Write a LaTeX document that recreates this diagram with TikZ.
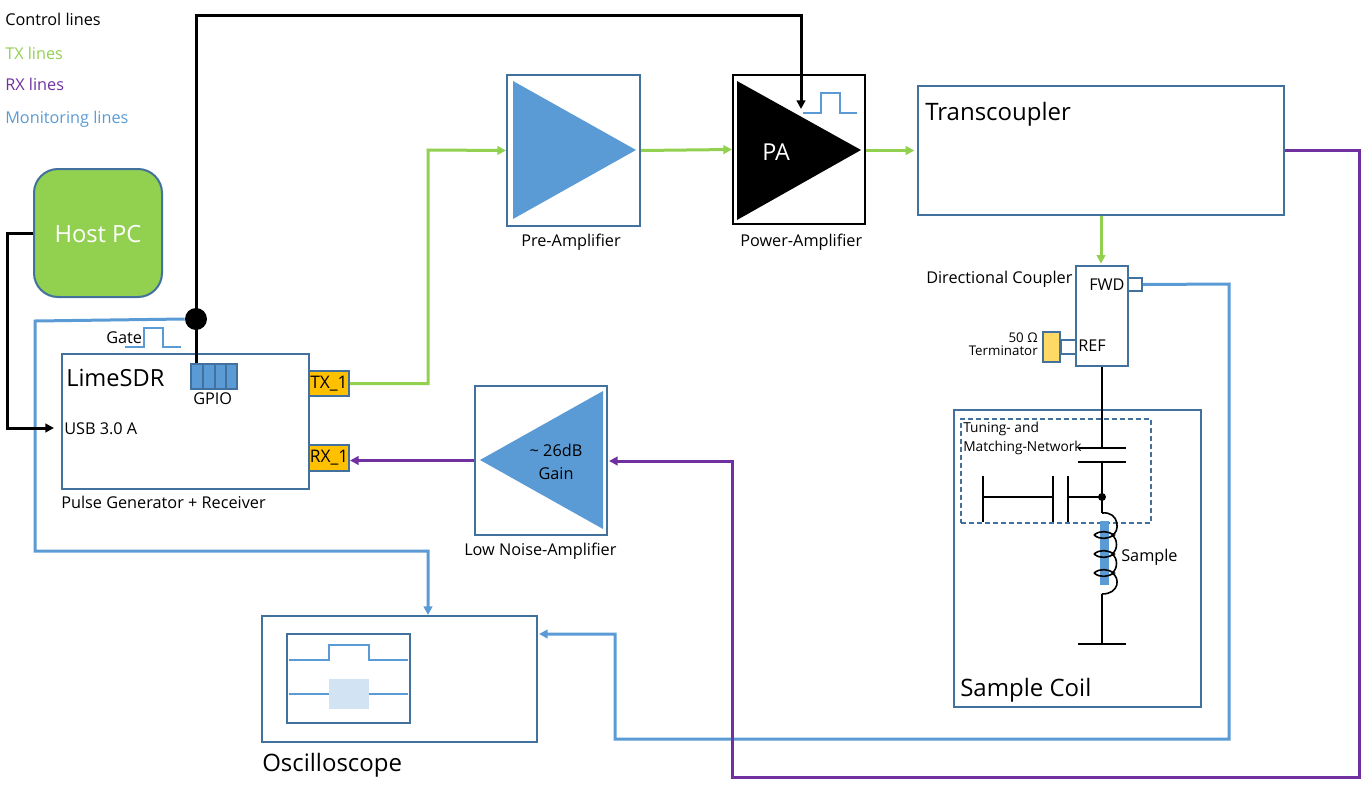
\documentclass[tikz,border=0pt]{standalone}
\usepackage{fontspec}
\setmainfont{Open Sans}
\usetikzlibrary{arrows.meta,fit}
\definecolor{boxline}{HTML}{41719C}
\definecolor{bluefill}{HTML}{5B9BD5}
\definecolor{txgreen}{HTML}{92D050}
\definecolor{rxpurple}{HTML}{7030A0}
\definecolor{portfill}{HTML}{FFC000}
\definecolor{termfill}{HTML}{FFD966}
\definecolor{envfill}{HTML}{D2E4F3}
\newcommand{\fs}[1]{\fontsize{#1}{#1}\selectfont}
\tikzset{
  blockbox/.style={draw=boxline, line width=1.5pt, inner sep=0pt, fit={#1}},
  portbox/.style={blockbox={#1}, fill=portfill},
  lbl/.style={anchor=west, inner sep=0pt, font=\fs{12.2}},
  biglbl/.style={anchor=west, inner sep=0pt, font=\fs{18}},
  ctrlline/.style={draw=black, line width=2.25pt},
  txline/.style={draw=txgreen, line width=2.25pt},
  rxline/.style={draw=rxpurple, line width=2.25pt},
  monline/.style={draw=bluefill, line width=2.25pt},
  pulse/.style={draw=bluefill, line width=1.2pt},
  wire/.style={draw=black, line width=1.5pt},
  tip/.style={-{Triangle[length=6.5pt,width=6.5pt]}}
}
\begin{document}
\begin{tikzpicture}[x=0.75pt, y=-0.75pt]
  \useasboundingbox (0,0) rectangle (1365,789);

  % legend
  \node [lbl] (legctrl) at (5,19) {Control lines};
  \node [lbl, text=txgreen] (legtx) at (5,53) {TX lines};
  \node [lbl, text=rxpurple] (legrx) at (5,84) {RX lines};
  \node [lbl, text=bluefill] (legmon) at (5,119) {Monitoring lines};

  % blocks
  \node [blockbox={(34,169) (162,297)}, fill=txgreen, rounded corners=18pt] (host) {};
  \node [anchor=center, inner sep=0pt, text=white, font=\fs{17.8}] (hostlbl) at (98,234) {Host PC};
  \node [blockbox={(62,354) (309,489)}] (lime) {};
  \node [portbox={(309,371) (349,396)}, label={[font=\fs{13}, inner sep=0pt]center:TX\_1}] (tx) {};
  \node [portbox={(309,445) (349,471)}, label={[font=\fs{13}, inner sep=0pt]center:RX\_1}] (rx) {};
  \node [blockbox={(191,364) (237,389)}, fill=bluefill] (gpio) {};
  \node [blockbox={(507,75) (640,226)}] (pre) {};
  \node [blockbox={(733,75) (865,224)}, draw=black] (pa) {};
  \node [blockbox={(918,86) (1284,215)}] (tc) {};
  \node [blockbox={(475,386) (607,535)}] (lna) {};
  \node [blockbox={(1076,266) (1128,366)}] (dc) {};
  \node [blockbox={(1128,278) (1142,291)}] (fwd) {};
  \node [blockbox={(1061,340) (1076,354)}] (ref) {};
  \node [blockbox={(1043,332) (1060,362)}, fill=termfill] (term) {};
  \node [blockbox={(954,410) (1201,707)}] (coil) {};
  \node [blockbox={(961,419) (1151,523)}, dash pattern=on 3.75pt off 2.25pt] (tune) {};
  \node [blockbox={(262,616) (537,742)}] (osc) {};
  \node [blockbox={(287,634) (410,723)}] (screen) {};

  % GPIO pins
  \foreach \x in {203,214.5,225.5} {
    \draw [boxline, line width=1.5pt] (\x,364) -- (\x,389);
  }

  % amplifiers
  \fill [bluefill] (513,81) -- (636,150) -- (513,219) -- cycle;
  \fill [black] (737,81) -- (861,150) -- (737,220) -- cycle;
  \fill [bluefill] (603,391) -- (480,460) -- (603,529) -- cycle;

  % monitoring lines
  \node [circle, fill=black, inner sep=0pt, minimum size=16.5pt] (dot) at (196,319) {};
  \draw [monline, tip] (dot.west) -- (35,321) -- (35,551) -- (428,551) -- (428,0 |- osc.north);
  \draw [monline, tip] (fwd.east) -- (1229,284) -- (1229,739) -- (615,739) -- (615,634) -- (539,634);

  % control lines
  \draw [ctrlline, tip] (dot.center) -- (196,15) -- (801,15) -- (801,109);
  \draw [ctrlline] (dot.center) -- (dot |- gpio.north);
  \node [lbl] (usb) at (64,429) {USB 3.0 A};
  \draw [ctrlline, tip] (host.west) -- (7,233) -- (7,428) -- (54,428);

  % TX lines
  \draw [txline, tip] (tx.east) -- (428,383.5) -- (428,150) -- (pre.west);
  \draw [txline, tip] (pre.east) -- (pa.west);
  \draw [txline, tip, shorten >=2pt] (pa.east |- tc.west) -- (tc.west);
  \draw [txline, tip, shorten >=1pt] (tc.south) -- (tc.south |- dc.north);

  % RX lines
  \draw [rxline, tip] (tc.east) -- (1359,0 |- tc.east) -- (1359,777) -- (732,777) -- (732,461) -- (609,461);
  \draw [rxline, tip] (lna.west) -- (lna.west -| rx.east);

  % pulses
  \draw [pulse] (125,347) -- (144,347) -- (144,328) -- (163,328) -- (163,347) -- (181,347);
  \draw [pulse] (803,113) -- (821,113) -- (821,93) -- (840,93) -- (840,113) -- (857,113);
  \draw [pulse] (289,660) -- (329,660) -- (329,645) -- (369,645) -- (369,660) -- (408,660);
  \draw [pulse] (289,694) -- (408,694);
  \fill [envfill] (329,679) rectangle (369,709);

  % tuning and matching network
  \draw [wire] (dc.south) -- (1102,448);
  \draw [wire] (1078,448) -- (1126,448);
  \draw [wire] (1078,462) -- (1126,462);
  \draw [wire] (1102,462) -- (1102,513);
  \draw [wire] (1102,497) -- (1069,497);
  \draw [wire] (1068,476) -- (1068,522);
  \draw [wire] (1053,476) -- (1053,522);
  \draw [wire] (1053,497) -- (983,497);
  \draw [wire] (983,476) -- (983,522);
  \fill [black] (1102,497) circle [radius=3pt];

  % sample coil
  \fill [bluefill] (1100,521) rectangle (1109,585);
  \draw [wire, line width=1.2pt] (1102,513) .. controls (1120,511) and (1120,533) .. (1112,535);
  \foreach \y in {535,554,573} {
    \draw [wire, line width=1.2pt] (1094,\y) .. controls (1100,\y-5) and (1108,\y-4) .. (1114,\y)
      .. controls (1108,\y+4) and (1100,\y+5) .. (1094,\y);
  }
  \draw [wire, line width=1.2pt] (1112,535) .. controls (1118,539) and (1118,550) .. (1112,554);
  \draw [wire, line width=1.2pt] (1112,554) .. controls (1118,558) and (1118,569) .. (1112,573);
  \draw [wire, line width=1.2pt] (1112,573) .. controls (1120,577) and (1120,594) .. (1102,594);
  \draw [wire] (1102,594) -- (1102,644);
  \draw [wire] (1078,644) -- (1126,644);

  % labels
  \node [biglbl, font=\fs{17.7}] (limelbl) at (66,378) {LimeSDR};
  \node [lbl] (gpiolbl) at (193,399) {GPIO};
  \node [lbl] (gatelbl) at (106,338) {Gate};
  \node [lbl] (limecap) at (61,502) {Pulse Generator + Receiver};
  \node [lbl] (precap) at (521,242) {Pre-Amplifier};
  \node [lbl] (pacap) at (740,242) {Power-Amplifier};
  \node [lbl, text=white, font=\fs{17.5}] (palbl) at (762,152) {PA};
  \node [biglbl] (tclbl) at (925,114) {Transcoupler};
  \node [lbl] (dclbl) at (926,279) {Directional Coupler};
  \node [lbl] (fwdlbl) at (1089,285) {FWD};
  \node [lbl] (reflbl) at (1078,346) {REF};
  \node [anchor=east, inner sep=0pt, align=right, font=\fs{10}] (termlbl) at (1038,344) {50 Ω\\Terminator};
  \node [anchor=north west, inner sep=0pt, align=left, font=\fs{10.3}, execute at begin node=\setlength{\baselineskip}{14pt}] (tunelbl) at (963,422) {Tuning- and\\Matching-Network};
  \node [lbl] (samplelbl) at (1121,557) {Sample};
  \node [biglbl] (coillbl) at (960,690) {Sample Coil};
  \node [anchor=center, inner sep=0pt, align=center, font=\fs{12.2}, execute at begin node=\setlength{\baselineskip}{17pt}] (lnalbl) at (556,462) {\textasciitilde{} 26dB\\Gain};
  \node [lbl] (lnacap) at (464,551) {Low Noise-Amplifier};
  \node [biglbl] (osclbl) at (262,765) {Oscilloscope};
\end{tikzpicture}
\end{document}
